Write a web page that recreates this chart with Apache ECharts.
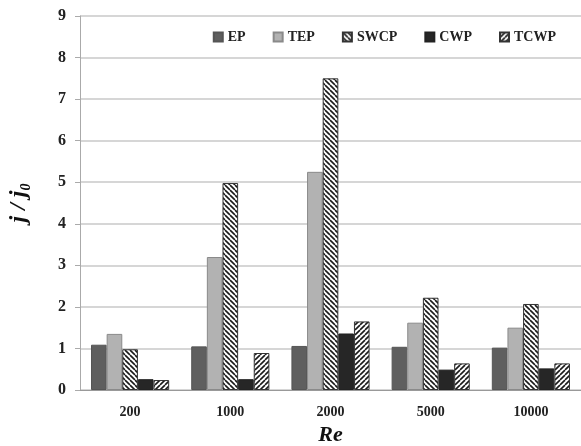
<!DOCTYPE html>
<html>
<head>
<meta charset="utf-8">
<script src="https://cdn.jsdelivr.net/npm/echarts@6/dist/echarts.min.js"></script>
<style>
  html, body { margin: 0; padding: 0; background: #fff; }
  #chart { width: 581px; height: 446px; }
</style>
</head>
<body>
<div id="chart"></div>
<script>
  const categories = ['200', '1000', '2000', '5000', '10000']
  const ep = [1.09, 1.05, 1.06, 1.04, 1.02]
  const tep = [1.35, 3.2, 5.25, 1.62, 1.5]
  const swcp = [0.98, 4.98, 7.5, 2.22, 2.07]
  const cwp = [0.26, 0.26, 1.36, 0.49, 0.52]
  const tcwp = [0.24, 0.89, 1.65, 0.64, 0.64]

  // hatch fill, dir 1 = "\" , dir -1 = "/"
  function hatch (dir) {
    const size = 5
    const c = document.createElement('canvas')
    c.width = size
    c.height = size
    const ctx = c.getContext('2d')
    ctx.fillStyle = '#fff'
    ctx.fillRect(0, 0, size, size)
    ctx.strokeStyle = '#1a1a1a'
    ctx.lineWidth = 1.6
    for (let k = -1; k <= 1; k++) {
      ctx.beginPath()
      if (dir > 0) {
        ctx.moveTo(k * size, 0)
        ctx.lineTo(k * size + size, size)
      } else {
        ctx.moveTo(k * size, size)
        ctx.lineTo(k * size + size, 0)
      }
      ctx.stroke()
    }
    return { image: c, repeat: 'repeat' }
  }

  const font = 'Liberation Serif'
  const chart = echarts.init(document.getElementById('chart'))

  function bar (name, data, color, border) {
    return {
      name: name,
      type: 'bar',
      data: data,
      barGap: 0,
      barCategoryGap: '22%',
      itemStyle: { color: color, borderColor: border, borderWidth: 1 }
    }
  }

  chart.setOption({
    animation: false,
    textStyle: { fontFamily: font },
    legend: {
      top: 25,
      right: 20,
      icon: 'rect',
      itemWidth: 9,
      itemHeight: 9,
      itemGap: 27,
      textStyle: { fontFamily: font, fontWeight: 'bold', fontSize: 14, color: '#222' },
      data: ['EP', 'TEP', 'SWCP', 'CWP', 'TCWP']
    },
    grid: { left: 80, right: 0, top: 16, bottom: 56, outerBoundsMode: 'none' },
    xAxis: {
      type: 'category',
      data: categories,
      name: 'Re',
      nameLocation: 'middle',
      nameGap: 32,
      nameTextStyle: { fontFamily: font, fontStyle: 'italic', fontWeight: 'bold', fontSize: 22, color: '#111' },
      axisLine: { lineStyle: { color: '#999' } },
      axisTick: { lineStyle: { color: '#999' } },
      axisLabel: { fontFamily: font, fontWeight: 'bold', fontSize: 14, color: '#222', margin: 15 }
    },
    yAxis: {
      type: 'value',
      min: 0,
      max: 9,
      interval: 1,
      name: '{j|j / j}{s|0}',
      nameLocation: 'middle',
      nameGap: 47,
      nameTextStyle: {
        rich: {
          j: { fontFamily: font, fontStyle: 'italic', fontWeight: 'bold', fontSize: 24, color: '#111' },
          s: { fontFamily: font, fontStyle: 'italic', fontWeight: 'bold', fontSize: 14, color: '#111', padding: [14, 0, 0, 0] }
        }
      },
      axisLine: { show: true, lineStyle: { color: '#aaa' } },
      axisTick: { show: true, lineStyle: { color: '#aaa' } },
      splitLine: { lineStyle: { color: '#c8c8c8', width: 1.5 } },
      axisLabel: { fontFamily: font, fontWeight: 'bold', fontSize: 16, color: '#222', margin: 14 }
    },
    series: [
      bar('EP', ep, '#5f5f5f', '#555'),
      bar('TEP', tep, '#b2b2b2', '#8a8a8a'),
      bar('SWCP', swcp, hatch(1), '#333'),
      bar('CWP', cwp, '#262626', '#222'),
      bar('TCWP', tcwp, hatch(-1), '#333')
    ]
  })
</script>
</body>
</html>
